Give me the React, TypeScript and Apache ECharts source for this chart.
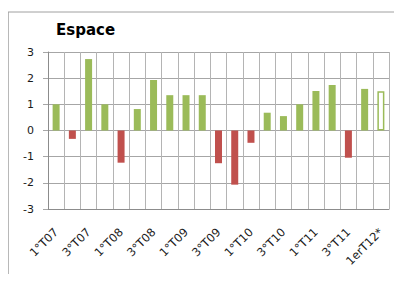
import React, { useEffect, useRef } from "react";
import * as echarts from "echarts";

const categories = [
  "1°T07", "2°T07", "3°T07", "4°T07",
  "1°T08", "2°T08", "3°T08", "4°T08",
  "1°T09", "2°T09", "3°T09", "4°T09",
  "1°T10", "2°T10", "3°T10", "4°T10",
  "1°T11", "2°T11", "3°T11", "4°T11",
  "1erT12*",
];
const values = [
  1.0, -0.32, 2.73, 1.0, -1.23, 0.82, 1.93, 1.35, 1.35, 1.35, -1.25,
  -2.07, -0.47, 0.68, 0.55, 1.0, 1.51, 1.74, -1.04, 1.59, 1.5,
];
const estimatedIndex = [20];
const yTicks = [-3, -2, -1, 0, 1, 2, 3];

const GREEN = "#9bbb59";
const RED = "#c0504d";
const GRID = "#a6a6a6";
const VGRID = "#b4b4b4";

export default function App() {
  const ref = useRef<HTMLDivElement>(null);
  useEffect(() => {
    const chart = echarts.init(ref.current!, null, { renderer: "svg" });
    const data = values.map((v, i) => {
      if (estimatedIndex.includes(i)) {
        return {
          value: v,
          itemStyle: { color: "#ffffff", borderColor: GREEN, borderWidth: 1.5 },
        };
      }
      return { value: v, itemStyle: { color: v >= 0 ? GREEN : RED } };
    });
    chart.setOption({
      animation: false,
      backgroundColor: "#ffffff",
      graphic: [
        {
          type: "line",
          shape: { x1: 8, y1: 12, x2: 402, y2: 12 },
          style: { stroke: "#a0a0a0", lineWidth: 1 },
          silent: true,
        },
        {
          type: "line",
          shape: { x1: 8, y1: 12, x2: 8, y2: 282 },
          style: { stroke: "#a0a0a0", lineWidth: 1.5 },
          silent: true,
        },
      ],
      title: {
        text: "Espace",
        left: 56,
        top: 22,
        padding: 0,
        textStyle: {
          fontFamily: "DejaVu Sans",
          fontWeight: "bold",
          fontSize: 15,
          color: "#000000",
        },
      },
      grid: { left: 48, right: 13, top: 52, bottom: 73, containLabel: false },
      xAxis: {
        type: "category",
        data: categories,
        boundaryGap: true,
        axisLine: { onZero: false, lineStyle: { color: "#8c8c8c", width: 1 } },
        axisTick: { show: false, interval: 0 },
        splitLine: {
          show: true,
          interval: 0,
          lineStyle: { color: VGRID, width: 1 },
        },
        axisLabel: {
          interval: 1,
          rotate: 45,
          margin: 21,
          fontFamily: "DejaVu Sans",
          fontSize: 11.5,
          color: "#1a1a1a",
        },
      },
      yAxis: {
        type: "value",
        min: yTicks[0],
        max: yTicks[yTicks.length - 1],
        interval: 1,
        axisLine: { show: true, lineStyle: { color: "#8c8c8c" } },
        axisTick: { show: true, length: 5, lineStyle: { color: GRID } },
        splitLine: { show: true, lineStyle: { color: GRID, width: 1 } },
        axisLabel: {
          margin: 14,
          fontFamily: "DejaVu Sans",
          fontSize: 11,
          color: "#1a1a1a",
        },
      },
      series: [
        {
          type: "bar",
          data,
          barWidth: 7,
          z: 3,
        },
      ],
    });
    return () => chart.dispose();
  }, []);
  return <div ref={ref} style={{ width: 402, height: 282, margin: -8 }} />;
}
